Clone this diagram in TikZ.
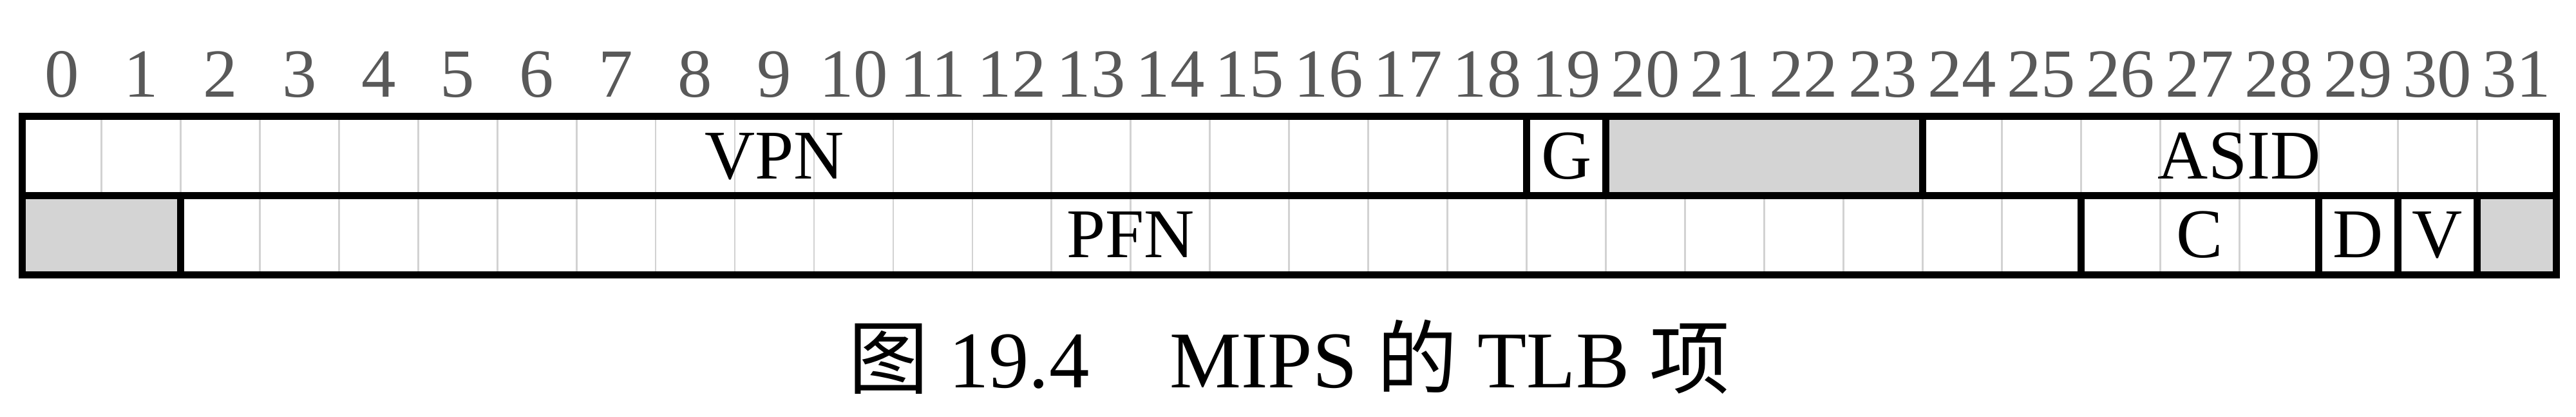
\documentclass[tikz,border=0pt]{standalone}
\usepackage{fontspec}
\setmainfont{Liberation Serif}
\newfontfamily\cjk{Noto Sans CJK SC}
\usepackage{tikz}

\definecolor{unusedgray}{RGB}{212,212,212}
\definecolor{bitgray}{RGB}{89,89,89}
\definecolor{linegray}{RGB}{210,210,210}

\begin{document}
\begin{tikzpicture}[scale=1.2296,
  bitline/.style={draw=linegray, line width=0.8pt},
  fieldbox/.style={draw=black, line width=3.1pt},
  unused/.style={fill=unusedgray},
  bitno/.style={anchor=base, text=bitgray, font=\fontsize{30.4}{36}\selectfont},
  fieldname/.style={anchor=base, font=\fontsize{30.8}{36}\selectfont}]

\useasboundingbox (-0.28, -1.786) rectangle (32.252, 3.468);

\draw [bitline] (1, 0) -- (1, 2);
\draw [bitline] (2, 0) -- (2, 2);
\draw [bitline] (3, 0) -- (3, 2);
\draw [bitline] (4, 0) -- (4, 2);
\draw [bitline] (5, 0) -- (5, 2);
\draw [bitline] (6, 0) -- (6, 2);
\draw [bitline] (7, 0) -- (7, 2);
\draw [bitline] (8, 0) -- (8, 2);
\draw [bitline] (9, 0) -- (9, 2);
\draw [bitline] (10, 0) -- (10, 2);
\draw [bitline] (11, 0) -- (11, 2);
\draw [bitline] (12, 0) -- (12, 2);
\draw [bitline] (13, 0) -- (13, 2);
\draw [bitline] (14, 0) -- (14, 2);
\draw [bitline] (15, 0) -- (15, 2);
\draw [bitline] (16, 0) -- (16, 2);
\draw [bitline] (17, 0) -- (17, 2);
\draw [bitline] (18, 0) -- (18, 2);
\draw [bitline] (19, 0) -- (19, 2);
\draw [bitline] (20, 0) -- (20, 2);
\draw [bitline] (21, 0) -- (21, 2);
\draw [bitline] (22, 0) -- (22, 2);
\draw [bitline] (23, 0) -- (23, 2);
\draw [bitline] (24, 0) -- (24, 2);
\draw [bitline] (25, 0) -- (25, 2);
\draw [bitline] (26, 0) -- (26, 2);
\draw [bitline] (27, 0) -- (27, 2);
\draw [bitline] (28, 0) -- (28, 2);
\draw [bitline] (29, 0) -- (29, 2);
\draw [bitline] (30, 0) -- (30, 2);
\draw [bitline] (31, 0) -- (31, 2);

% first word: VPN, G, unused, ASID
\draw [fieldbox] (0, 1) rectangle (19, 2);
\draw [fieldbox] (19, 1) rectangle (20, 2);
\draw [fieldbox, unused] (20, 1) rectangle (24, 2);
\draw [fieldbox] (24, 1) rectangle (32, 2);

% second word: unused, PFN, C, D, V, unused
\draw [fieldbox, unused] (0, 0) rectangle (2, 1);
\draw [fieldbox] (2, 0) rectangle (26, 1);
\draw [fieldbox] (26, 0) rectangle (29, 1);
\draw [fieldbox] (29, 0) rectangle (30, 1);
\draw [fieldbox] (30, 0) rectangle (31, 1);
\draw [fieldbox, unused] (31, 0) rectangle (32, 1);

\node [bitno] (0) at (0.5, 2.248) {0};
\node [bitno] (1) at (1.5, 2.248) {1};
\node [bitno] (2) at (2.5, 2.248) {2};
\node [bitno] (3) at (3.5, 2.248) {3};
\node [bitno] (4) at (4.5, 2.248) {4};
\node [bitno] (5) at (5.5, 2.248) {5};
\node [bitno] (6) at (6.5, 2.248) {6};
\node [bitno] (7) at (7.5, 2.248) {7};
\node [bitno] (8) at (8.5, 2.248) {8};
\node [bitno] (9) at (9.5, 2.248) {9};
\node [bitno] (10) at (10.5, 2.248) {10};
\node [bitno] (11) at (11.5, 2.248) {11};
\node [bitno] (12) at (12.5, 2.248) {12};
\node [bitno] (13) at (13.5, 2.248) {13};
\node [bitno] (14) at (14.5, 2.248) {14};
\node [bitno] (15) at (15.5, 2.248) {15};
\node [bitno] (16) at (16.5, 2.248) {16};
\node [bitno] (17) at (17.5, 2.248) {17};
\node [bitno] (18) at (18.5, 2.248) {18};
\node [bitno] (19) at (19.5, 2.248) {19};
\node [bitno] (20) at (20.5, 2.248) {20};
\node [bitno] (21) at (21.5, 2.248) {21};
\node [bitno] (22) at (22.5, 2.248) {22};
\node [bitno] (23) at (23.5, 2.248) {23};
\node [bitno] (24) at (24.5, 2.248) {24};
\node [bitno] (25) at (25.5, 2.248) {25};
\node [bitno] (26) at (26.5, 2.248) {26};
\node [bitno] (27) at (27.5, 2.248) {27};
\node [bitno] (28) at (28.5, 2.248) {28};
\node [bitno] (29) at (29.5, 2.248) {29};
\node [bitno] (30) at (30.5, 2.248) {30};
\node [bitno] (31) at (31.5, 2.248) {31};

\node [fieldname] (vpn) at (9.5, 1.215) {VPN};
\node [fieldname] (g) at (19.5, 1.215) {G};
\node [fieldname] (asid) at (28, 1.215) {ASID};

\node [fieldname] (pfn) at (14, 0.215) {PFN};
\node [fieldname] (c) at (27.5, 0.215) {C};
\node [fieldname] (d) at (29.5, 0.215) {D};
\node [fieldname] (v) at (30.5, 0.215) {V};

\node [anchor=base, font=\fontsize{35.5}{40}\selectfont] (caption) at (16, -1.42)
  {{\cjk 图} 19.4\quad MIPS {\cjk 的} TLB {\cjk 项}};

\end{tikzpicture}
\end{document}
